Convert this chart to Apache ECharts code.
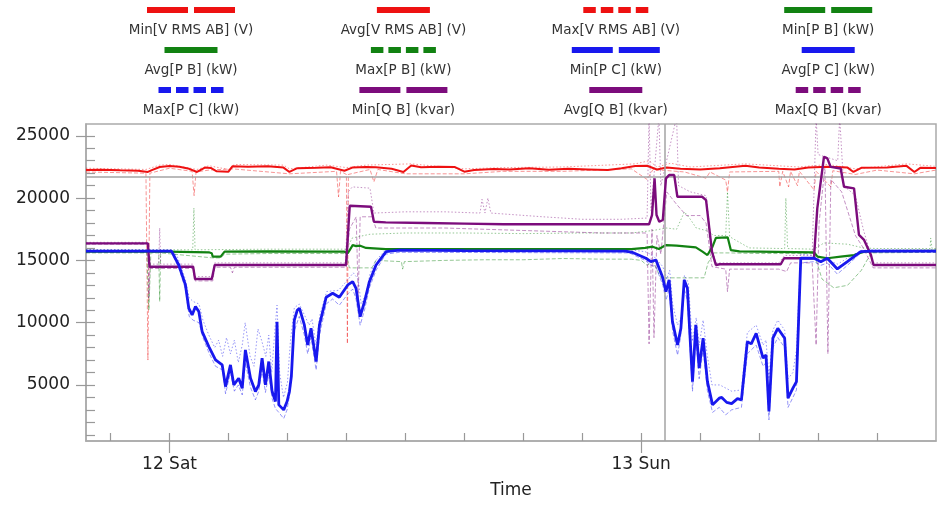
<!DOCTYPE html>
<html><head><meta charset="utf-8">
<script src="https://cdn.jsdelivr.net/npm/echarts@6/dist/echarts.min.js"></script>
<style>html,body{margin:0;padding:0;background:#fff}#c{width:941px;height:505px}</style>
</head><body><div id="c"></div>
<script>
// x values are hours relative to Sat 12 00:00
const BASE = new Date(2022, 10, 12, 0, 0, 0).getTime();
const HOUR = 3600000;
const xRangeHours = [-4.25, 39];
const yRange = [500, 25950];
const yLabelValues = [5000, 10000, 15000, 20000, 25000];
const yMinorValues = [1000,2000,3000,4000,5000,6000,7000,8000,9000,10000,11000,12000,13000,14000,15000,16000,17000,18000,19000,20000,21000,22000,23000,24000,25000];
const dayTickHours = [0, 24];
const minorTickHours = [-3,0,3,6,9,12,15,18,21,24,27,30,33,36];
const dayNames = ['Sun','Mon','Tue','Wed','Thu','Fri','Sat'];
const limitLineValue = 21700;
const cursorHour = 25.2;

const minVRmsAB = [[-4.25,22100],[-1.2,22000],[-1.1,7000],[-1.0,22000],[0,22400],[1.15,22150],[1.25,20200],[1.35,22100],[2.0,22250],[3.2,22350],[6.1,21950],[8.5,22150],[8.6,20100],[8.7,22150],[9.0,21900],[9.05,8300],[9.1,21900],[10.2,22300],[10.4,21300],[10.6,22300],[12,21950],[15,21950],[17,22150],[20,22150],[23.5,22350],[24.3,21500],[24.6,22300],[26.2,22100],[27.3,21600],[27.5,22100],[28.3,21450],[28.39,20500],[28.5,22100],[31.0,22150],[31.05,20900],[31.2,22150],[31.5,20900],[31.6,22150],[31.95,21000],[32.05,22150],[32.8,20650],[32.9,22150],[33.65,20900],[33.75,22200],[34.9,21900],[36,22250],[37.9,21950],[39,22250]];
const avgVRmsAB = [[-4.25,22250],[-3.5,22280],[-2.5,22230],[-1.6,22200],[-1.1,22100],[-0.9,22250],[-0.5,22500],[0,22570],[0.5,22520],[1.0,22350],[1.4,22100],[1.8,22450],[2.1,22420],[2.4,22150],[3.0,22120],[3.2,22550],[4.0,22520],[5.0,22560],[5.8,22450],[6.1,22100],[6.5,22400],[7.5,22430],[8.2,22480],[8.9,22200],[9.3,22450],[10.0,22500],[10.5,22480],[11.3,22350],[11.9,22100],[12.3,22620],[12.8,22480],[13.7,22520],[14.5,22500],[15.0,22120],[15.5,22250],[16.5,22330],[17.3,22300],[18.3,22400],[19.3,22280],[20.3,22350],[21.3,22300],[22.3,22250],[23.0,22400],[23.7,22580],[24.3,22600],[24.8,22300],[25.3,22450],[26.0,22350],[27.0,22300],[28.0,22400],[29.3,22590],[30.0,22450],[31.0,22350],[31.8,22300],[32.5,22450],[33.5,22520],[34.5,22450],[34.8,22100],[35.2,22430],[36.5,22450],[37.5,22590],[37.9,22100],[38.2,22430],[39,22420]];
const maxVRmsAB = [[-4.25,22400],[-1.2,22300],[-0.5,22650],[0,22700],[1.4,22300],[2.0,22600],[3.0,22300],[3.3,22700],[5.8,22650],[6.1,22350],[8.0,22650],[9.0,22450],[10,22650],[12.3,22750],[15,22350],[17,22450],[20,22500],[23.7,22750],[24.4,23000],[24.8,22500],[25.5,22800],[26.5,22500],[29.3,22750],[32,22500],[33.5,22700],[34.9,22350],[37.5,22750],[39,22550]];

const minPB = [[-4.25,15600],[-1.15,15600],[-1.05,11000],[-0.95,15600],[-0.55,15600],[-0.5,11700],[-0.45,15600],[2.2,15200],[2.6,15200],[2.8,15500],[5,15550],[9.0,15550],[9.15,14400],[10.3,14400],[10.5,15000],[11.8,14900],[11.86,14300],[11.95,14900],[14,15000],[16,15050],[18,15050],[20,15150],[22,15100],[23.5,15100],[24.0,15000],[24.3,14600],[24.6,14900],[25.0,13600],[27.2,13600],[27.4,14800],[27.7,15600],[28.5,15600],[30,15550],[32.8,15550],[33.2,13500],[33.8,12800],[34.5,13000],[35.2,14200],[35.7,15600],[39,15650]];
const avgPB = [[-4.25,15700],[-0.1,15700],[2.0,15650],[2.15,15570],[2.2,15300],[2.6,15300],[2.8,15700],[5,15720],[8,15700],[8.9,15700],[9.07,15570],[9.32,16230],[9.5,16150],[9.7,16180],[10.0,16000],[11,15910],[12,15900],[15,15900],[20,15910],[23.5,15910],[24.2,16000],[24.58,16100],[24.9,15910],[25.26,16230],[25.8,16180],[26.78,16050],[27.12,15700],[27.37,15430],[27.63,16100],[27.8,16800],[28.4,16850],[28.56,15830],[29,15720],[32.8,15650],[32.97,15300],[33.47,15170],[34.15,15300],[34.83,15430],[35.34,15700],[36,15750],[39,15760]];
const maxPB = [[-4.25,15850],[1.18,15850],[1.24,19200],[1.3,15850],[5.0,15900],[9.0,15900],[9.3,16800],[10.2,17100],[12,17200],[15,17200],[18,17150],[21,17200],[23.5,17200],[24.6,17400],[25.3,17600],[25.8,17500],[26.2,18900],[26.5,18300],[26.8,17600],[27.3,17400],[27.7,17000],[28.3,17000],[28.39,20500],[28.5,16900],[29.5,16000],[31.3,15950],[31.36,20000],[31.45,15950],[32.8,15900],[33.3,16400],[34.5,16300],[35.3,16000],[36,15950],[38.7,15950],[38.73,16800],[38.8,15950],[39,15950]];

const minPC = [[-4.25,15650],[0.1,15650],[0.47,14400],[0.81,12700],[1.0,10500],[1.2,10200],[1.5,10000],[1.7,8800],[2.0,7600],[2.34,6500],[2.7,6200],[2.85,4300],[3.1,6000],[3.3,4500],[3.5,5000],[3.7,4200],[3.86,6800],[4.12,4800],[4.37,3800],[4.54,4500],[4.71,6200],[4.88,4400],[5.05,5800],[5.22,3900],[5.39,3100],[5.56,2800],[5.81,2300],[5.98,3000],[6.15,4600],[6.32,9200],[6.6,10500],[6.86,9000],[7.03,7500],[7.2,8800],[7.46,6200],[7.63,9000],[7.97,11500],[8.3,11900],[8.64,11400],[9.07,12300],[9.32,12700],[9.49,11900],[9.7,9800],[9.92,11000],[10.17,12800],[10.51,14200],[11.0,15500],[11.7,15650],[23.4,15600],[24.2,15000],[24.5,14600],[24.75,14500],[25.1,13000],[25.26,11800],[25.42,12700],[25.6,9300],[25.85,7400],[26.0,8800],[26.19,12700],[26.35,11800],[26.61,4500],[26.78,8900],[26.95,5500],[27.15,7900],[27.37,4500],[27.63,2800],[27.97,3200],[28.3,2600],[28.6,3000],[29.1,3200],[29.4,7500],[29.85,8200],[30.2,6500],[30.35,6800],[30.5,2200],[30.7,8000],[30.95,8800],[31.3,8000],[31.47,3200],[31.72,4000],[31.9,4600],[32.0,8800],[32.12,14800],[32.8,14900],[33.14,14600],[33.47,14800],[33.98,13900],[34.49,14600],[35.17,15600],[35.68,15650],[39,15650]];
const avgPC = [[-4.25,15750],[0.1,15750],[0.47,14630],[0.81,13030],[0.98,11160],[1.15,10620],[1.32,11290],[1.49,10890],[1.66,9280],[2.0,8080],[2.34,7010],[2.68,6610],[2.85,4870],[3.1,6610],[3.27,5010],[3.52,5540],[3.7,4740],[3.86,7810],[4.12,5540],[4.37,4470],[4.54,5010],[4.71,7150],[4.88,5010],[5.05,6880],[5.22,4470],[5.39,3670],[5.47,10080],[5.56,3400],[5.81,3000],[5.98,3670],[6.1,4470],[6.2,5700],[6.35,10200],[6.5,11000],[6.61,11160],[6.86,9820],[7.03,8210],[7.2,9550],[7.46,6880],[7.63,9820],[7.97,12040],[8.3,12360],[8.64,12040],[9.07,13030],[9.32,13290],[9.49,12760],[9.7,10480],[9.92,11680],[10.17,13290],[10.51,14630],[11.02,15700],[11.7,15830],[15,15780],[20,15760],[23.2,15750],[23.54,15650],[24.24,15170],[24.49,14900],[24.75,15030],[25.08,13690],[25.26,12490],[25.42,13430],[25.59,10080],[25.85,8210],[26.02,9550],[26.19,13430],[26.35,12760],[26.61,5270],[26.78,9820],[26.95,6350],[27.15,8750],[27.37,5270],[27.63,3400],[27.97,3940],[28.1,4000],[28.35,3600],[28.6,3500],[28.9,3900],[29.1,3800],[29.4,8480],[29.6,8300],[29.85,9150],[30.2,7150],[30.35,7410],[30.5,2870],[30.7,8750],[30.95,9550],[31.3,8750],[31.47,3940],[31.72,4740],[31.9,5270],[32.0,9820],[32.12,15170],[32.8,15170],[33.14,14900],[33.47,15170],[33.98,14310],[34.49,14900],[35.17,15700],[35.68,15750],[39,15750]];
const maxPC = [[-4.25,15850],[0.1,15850],[0.4,15300],[0.8,13500],[1.0,12000],[1.2,11700],[1.5,11500],[1.7,10200],[2.0,9000],[2.3,8000],[2.5,8600],[2.7,7300],[2.9,8800],[3.1,7500],[3.3,8600],[3.5,6800],[3.7,8200],[3.85,10000],[4.1,7300],[4.3,6500],[4.5,9500],[4.7,8500],[4.9,7300],[5.05,9000],[5.2,6000],[5.35,9200],[5.47,11400],[5.6,6000],[5.8,4000],[6.0,5200],[6.15,8500],[6.35,11200],[6.6,11500],[6.9,10500],[7.1,9800],[7.25,10300],[7.45,8200],[7.65,10600],[8.0,12500],[8.6,12600],[9.1,13500],[9.35,14000],[9.6,13500],[9.75,11500],[10.0,12300],[10.2,13900],[10.5,15000],[11.0,15850],[23.4,15850],[24.2,15700],[24.6,15400],[25.1,14500],[25.3,13500],[25.45,14200],[25.6,11500],[25.85,9800],[26.05,10500],[26.2,13800],[26.4,13200],[26.6,8500],[26.8,10400],[26.95,8200],[27.15,10200],[27.35,7500],[27.6,5000],[28.0,5000],[28.6,4500],[29.1,4600],[29.4,9200],[29.85,9800],[30.2,8200],[30.35,8600],[30.5,5500],[30.7,9400],[30.95,10200],[31.3,9400],[31.47,5500],[31.72,6000],[31.9,7800],[32.0,11500],[32.12,15500],[32.8,15400],[33.2,15200],[34.0,14700],[34.5,15200],[35.2,15800],[35.7,15850],[39,15850]];

const minQB = [[-4.25,16300],[-1.1,16300],[-1.05,12000],[-1.0,14350],[1.2,14350],[1.3,13350],[2.2,13350],[2.3,14450],[3.1,14450],[3.2,14000],[3.3,14450],[9.0,14450],[9.15,17500],[9.5,18500],[9.6,12000],[9.7,18500],[10.3,18500],[10.5,17600],[14,17600],[18,17400],[22,17200],[24.3,17200],[24.4,8300],[24.55,17500],[24.65,8800],[24.8,17000],[25.0,15500],[25.3,20500],[25.8,19500],[26.3,18600],[27.0,18600],[27.3,18000],[27.6,14500],[28.3,14300],[28.39,12500],[28.5,14300],[31.0,14300],[31.2,14200],[31.4,14100],[31.6,14800],[32.7,14800],[32.9,8200],[33.05,18000],[33.35,22500],[33.5,7500],[33.65,21500],[34.2,20500],[34.4,19500],[34.9,17000],[35.3,16000],[35.8,14400],[39,14400]];
const avgQB = [[-4.25,16370],[-1.1,16370],[-1.02,14490],[1.2,14490],[1.3,13510],[2.15,13510],[2.3,14630],[5,14630],[8.98,14630],[9.17,19390],[10.25,19310],[10.4,18100],[11,18050],[13,18000],[15,17950],[17,17900],[20,17900],[22,17900],[24.4,17900],[24.55,18640],[24.68,21580],[24.78,18640],[24.92,18100],[25.1,18240],[25.26,21580],[25.42,21850],[25.68,21850],[25.84,20110],[27.1,20110],[27.3,19840],[27.6,15700],[27.8,14630],[28,14690],[31.1,14690],[31.27,15170],[32.79,15170],[32.96,19180],[33.3,23320],[33.47,23190],[33.64,22510],[34.15,22380],[34.32,20910],[34.83,20780],[35.08,17040],[35.34,16640],[35.69,15430],[35.82,14630],[39,14630]];
const maxQB = [[-4.25,16450],[-1.1,16450],[-1.03,14700],[-0.55,14700],[-0.5,17600],[-0.45,14700],[1.2,14700],[1.3,13700],[2.2,13700],[2.3,14800],[8.95,14800],[9.1,20500],[9.3,20900],[10.2,20800],[10.4,18800],[12,18900],[14,18900],[15.8,18800],[15.9,19900],[16.05,18800],[16.2,20000],[16.35,18800],[19,18500],[21,18300],[23,18300],[24.3,18400],[24.4,26500],[24.5,19000],[24.9,26500],[25.0,21000],[25.8,26500],[25.9,21000],[26.5,20500],[27.3,20200],[27.6,16000],[27.8,14800],[31.0,14800],[31.3,15400],[32.7,15400],[32.9,26500],[33.0,23500],[34.0,23000],[34.1,26500],[34.3,21000],[34.9,20200],[35.3,17500],[35.8,14800],[39,14800]];

const RED = '#ee1111', GREEN = '#128212', BLUE = '#1818ee', PURPLE = '#7c0c7c';
const seriesDefs = [
  {name:'Min[V RMS AB] (V)', data:minVRmsAB, color:RED, kind:'min'},
  {name:'Avg[V RMS AB] (V)', data:avgVRmsAB, color:RED, kind:'avg'},
  {name:'Max[V RMS AB] (V)', data:maxVRmsAB, color:RED, kind:'max'},
  {name:'Min[P B] (kW)', data:minPB, color:GREEN, kind:'min'},
  {name:'Avg[P B] (kW)', data:avgPB, color:GREEN, kind:'avg'},
  {name:'Max[P B] (kW)', data:maxPB, color:GREEN, kind:'max'},
  {name:'Min[P C] (kW)', data:minPC, color:BLUE, kind:'min'},
  {name:'Avg[P C] (kW)', data:avgPC, color:BLUE, kind:'avg'},
  {name:'Max[P C] (kW)', data:maxPC, color:BLUE, kind:'max'},
  {name:'Min[Q B] (kvar)', data:minQB, color:PURPLE, kind:'min'},
  {name:'Avg[Q B] (kvar)', data:avgQB, color:PURPLE, kind:'avg'},
  {name:'Max[Q B] (kvar)', data:maxQB, color:PURPLE, kind:'max'}
];
const avgZ = {'Avg[V RMS AB] (V)':3, 'Avg[P B] (kW)':4, 'Avg[Q B] (kvar)':5, 'Avg[P C] (kW)':6};
const avgWidth = {'Avg[V RMS AB] (V)':2, 'Avg[P B] (kW)':2.2, 'Avg[Q B] (kvar)':2.4, 'Avg[P C] (kW)':2.8};

const FONT = '"DejaVu Sans", Verdana, sans-serif';
const dayLabel = h => { const t = new Date(BASE + h * HOUR); return t.getDate() + ' ' + dayNames[t.getDay()]; };

const series = seriesDefs.map(d => ({
  name: d.name, type: 'line', showSymbol: false, symbol: 'none', animation: false,
  data: d.data,
  z: d.kind === 'avg' ? avgZ[d.name] : 2,
  lineStyle: d.kind === 'avg'
    ? {color: d.color, width: avgWidth[d.name]}
    : {color: d.color, width: 1, opacity: 0.45, type: d.kind === 'min' ? [4, 2] : [1.5, 2]},
  itemStyle: {color: d.color},
  emphasis: {disabled: true}
}));
series.push({
  type: 'line', data: [], silent: true, z: 1,
  markLine: {
    silent: true, symbol: ['none', 'none'], label: {show: false}, animation: false,
    lineStyle: {color: '#a3a3a3', width: 1.5, type: 'solid'},
    data: [{yAxis: limitLineValue}, {xAxis: cursorHour}]
  }
});

// legend drawn as graphic: icon above text, 4 columns x 3 rows
const graphic = [];
seriesDefs.forEach((d, i) => {
  const col = i % 4, row = Math.floor(i / 4);
  const cx = 191 + col * 212.4, iy = 10 + row * 40, ty = 30 + row * 40;
  let segs;
  if (d.kind === 'avg') segs = [[-26.5, 53]];
  else if (d.kind === 'min') segs = [[-44, 41], [3, 41]];
  else segs = [[-32.5, 12.5], [-15, 12.5], [2.5, 12.5], [20, 12.5]];
  segs.forEach(sg => graphic.push({type: 'rect', silent: true,
    shape: {x: cx + sg[0], y: iy - 3, width: sg[1], height: 6},
    style: {fill: d.color}}));
  graphic.push({type: 'text', silent: true,
    style: {text: d.name, x: cx, y: ty, align: 'center', verticalAlign: 'middle',
      fill: '#333', font: '13.5px ' + FONT}});
});

const chart = echarts.init(document.getElementById('c'));
chart.setOption({
  animation: false,
  backgroundColor: '#fff',
  grid: {left: 86, right: 5, top: 124, bottom: 64, show: true, borderColor: '#aaaaaa', borderWidth: 1.5, backgroundColor: 'transparent'},
  xAxis: [
    {type: 'value', min: xRangeHours[0], max: xRangeHours[1],
     name: 'Time', nameLocation: 'middle', nameGap: 41,
     nameTextStyle: {fontSize: 17, fontFamily: FONT, color: '#222'},
     axisLine: {show: true, onZero: false, lineStyle: {color: '#aaaaaa', width: 1.5}},
     axisTick: {show: true, inside: false, length: 12, customValues: dayTickHours, lineStyle: {color: '#999', width: 1.2}},
     axisLabel: {show: true, customValues: dayTickHours, fontSize: 17, fontFamily: FONT, color: '#222', margin: 15,
       formatter: v => dayLabel(v)},
     splitLine: {show: false}},
    {type: 'value', min: xRangeHours[0], max: xRangeHours[1], position: 'bottom',
     axisLine: {show: false, onZero: false}, axisLabel: {show: false}, splitLine: {show: false},
     axisTick: {show: true, inside: true, length: 8, customValues: minorTickHours, lineStyle: {color: '#999', width: 1.2}}}
  ],
  yAxis: [
    {type: 'value', min: yRange[0], max: yRange[1],
     axisLine: {show: true, onZero: false, lineStyle: {color: '#aaaaaa', width: 1.5}},
     axisTick: {show: true, inside: false, length: 10, customValues: yLabelValues, lineStyle: {color: '#999', width: 1.2}},
     axisLabel: {show: true, customValues: yLabelValues, fontSize: 17, fontFamily: FONT, color: '#222', margin: 16,
       formatter: v => String(v)},
     splitLine: {show: false}},
    {type: 'value', min: yRange[0], max: yRange[1], position: 'left',
     axisLine: {show: false, onZero: false}, axisLabel: {show: false}, splitLine: {show: false},
     axisTick: {show: true, inside: true, length: 9, customValues: yMinorValues, lineStyle: {color: '#999', width: 1.2}}}
  ],
  graphic: graphic,
  series: series
});
</script></body></html>
